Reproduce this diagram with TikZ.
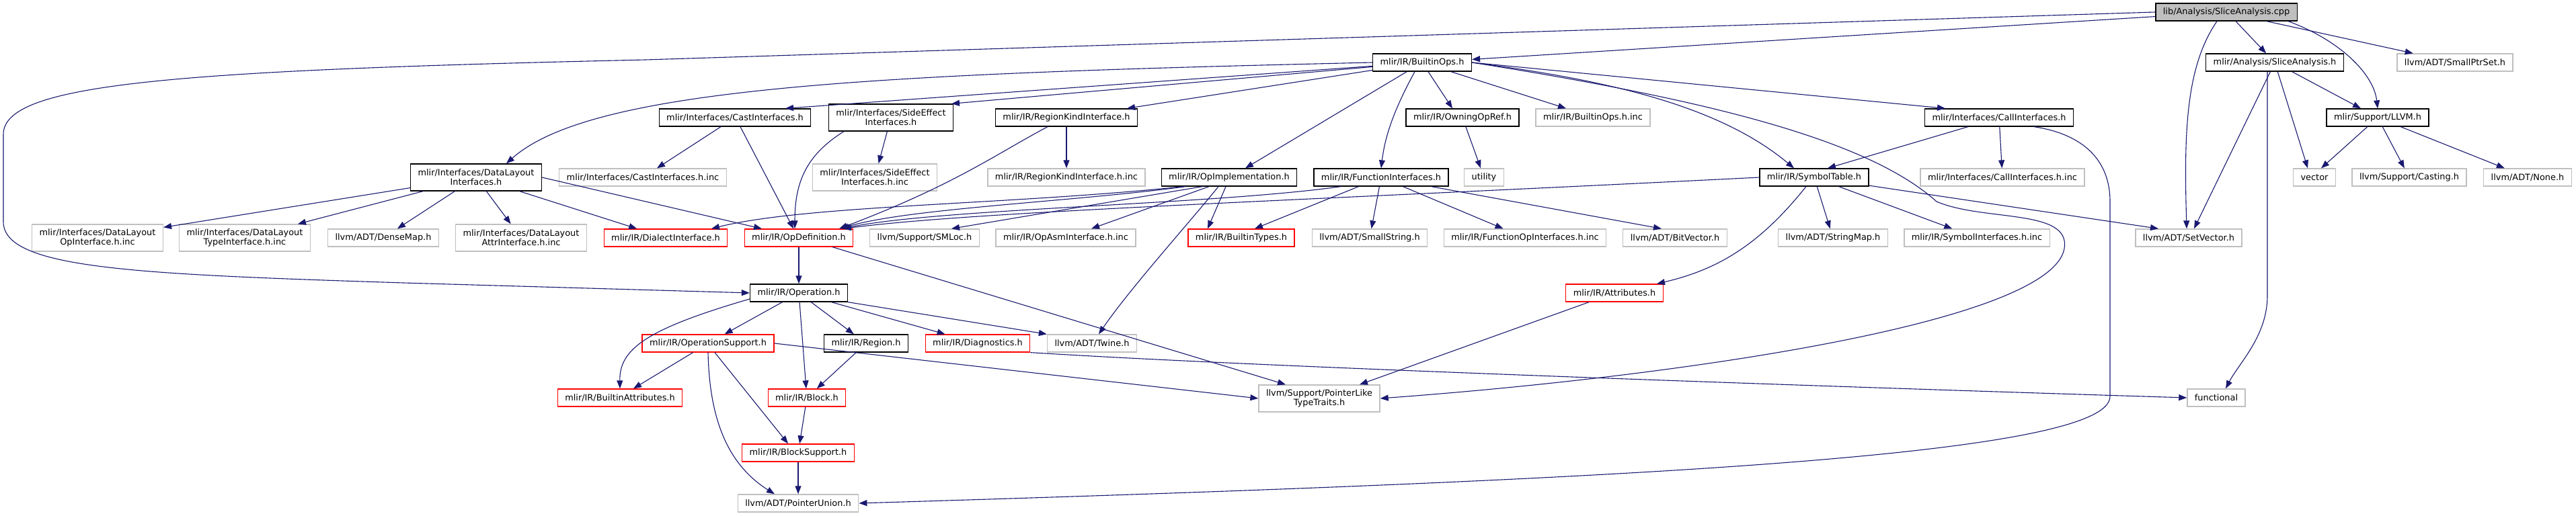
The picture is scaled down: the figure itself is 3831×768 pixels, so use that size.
\documentclass[tikz,border=0pt]{standalone}
\usepackage{fontspec}
\setmainfont{DejaVu Sans}
\usepackage{xcolor}
\usepackage{tikz}
\usetikzlibrary{arrows.meta, positioning}

\definecolor{edgeblue}{HTML}{191970}
\definecolor{leafgray}{HTML}{BFBFBF}
\definecolor{rootgray}{HTML}{BFBFBF}

\tikzset{
  filebox/.style={rectangle, draw, line width=1.3pt, inner xsep=11pt, inner ysep=0pt,
    minimum height=26pt, align=center, font=\fontsize{12.9pt}{14pt}\selectfont},
  rootfile/.style={filebox, draw=black, fill=rootgray},
  openfile/.style={filebox, draw=black},
  leaffile/.style={filebox, draw=leafgray},
  trimfile/.style={filebox, draw=red},
  twoline/.style={minimum height=40pt},
  incl/.style={draw=edgeblue, line width=1.1pt, -{Triangle[length=12pt,width=9pt]}}
}

\begin{document}
\begin{tikzpicture}[x=1pt, y=-1pt]
  \useasboundingbox (0,0) rectangle (3831,768);

  % files
  \node[rootfile] (cpp) at (3311,18) {lib/Analysis/SliceAnalysis.cpp};

  \node[openfile] (builtinops) at (2115,93) {mlir/IR/BuiltinOps.h};
  \node[openfile] (slicea) at (3383,93) {mlir/Analysis/SliceAnalysis.h};
  \node[leaffile] (smallptrset) at (3651,93) {llvm/ADT/SmallPtrSet.h};

  \node[openfile] (castif) at (1093,175) {mlir/Interfaces/CastInterfaces.h};
  \node[openfile, twoline] (sideeffect) at (1325,175) {mlir/Interfaces/SideEffect\\Interfaces.h};
  \node[openfile] (regionkind) at (1586,175) {mlir/IR/RegionKindInterface.h};
  \node[openfile] (owning) at (2175,175) {mlir/IR/OwningOpRef.h};
  \node[leaffile] (builtinopsinc) at (2369,175) {mlir/IR/BuiltinOps.h.inc};
  \node[openfile] (callif) at (2973,175) {mlir/Interfaces/CallInterfaces.h};
  \node[openfile] (llvm) at (3536,175) {mlir/Support/LLVM.h};

  \node[openfile, twoline] (datalayout) at (708,264) {mlir/Interfaces/DataLayout\\Interfaces.h};
  \node[leaffile] (castinc) at (956,264) {mlir/Interfaces/CastInterfaces.h.inc};
  \node[leaffile, twoline] (sideinc) at (1301,264) {mlir/Interfaces/SideEffect\\Interfaces.h.inc};
  \node[leaffile] (regioninc) at (1586,264) {mlir/IR/RegionKindInterface.h.inc};
  \node[openfile] (opimpl) at (1828,264) {mlir/IR/OpImplementation.h};
  \node[openfile] (funcif) at (2054,264) {mlir/IR/FunctionInterfaces.h};
  \node[leaffile] (utility) at (2207,264) {utility};
  \node[openfile] (symtab) at (2698,264) {mlir/IR/SymbolTable.h};
  \node[leaffile] (callinc) at (2978,264) {mlir/Interfaces/CallInterfaces.h.inc};
  \node[leaffile] (vector) at (3442,264) {vector};
  \node[leaffile] (casting) at (3583,264) {llvm/Support/Casting.h};
  \node[leaffile] (none) at (3759,264) {llvm/ADT/None.h};

  \node[leaffile, twoline] (dlop) at (145,354) {mlir/Interfaces/DataLayout\\OpInterface.h.inc};
  \node[leaffile, twoline] (dltype) at (364,354) {mlir/Interfaces/DataLayout\\TypeInterface.h.inc};
  \node[leaffile] (densemap) at (570,354) {llvm/ADT/DenseMap.h};
  \node[leaffile, twoline] (dlattr) at (775,354) {mlir/Interfaces/DataLayout\\AttrInterface.h.inc};
  \node[trimfile] (dialectif) at (990,354) {mlir/IR/DialectInterface.h};
  \node[trimfile] (opdef) at (1188,354) {mlir/IR/OpDefinition.h};
  \node[leaffile] (smloc) at (1375,354) {llvm/Support/SMLoc.h};
  \node[leaffile] (opasm) at (1585,354) {mlir/IR/OpAsmInterface.h.inc};
  \node[trimfile] (builtintypes) at (1846,354) {mlir/IR/BuiltinTypes.h};
  \node[leaffile] (smallstring) at (2037,354) {llvm/ADT/SmallString.h};
  \node[leaffile] (funcopinc) at (2268,354) {mlir/IR/FunctionOpInterfaces.h.inc};
  \node[leaffile] (bitvector) at (2491,354) {llvm/ADT/BitVector.h};
  \node[leaffile] (stringmap) at (2726,354) {llvm/ADT/StringMap.h};
  \node[leaffile] (symifinc) at (2940,354) {mlir/IR/SymbolInterfaces.h.inc};
  \node[leaffile] (setvector) at (3255,354) {llvm/ADT/SetVector.h};

  \node[openfile] (operation) at (1188,436) {mlir/IR/Operation.h};
  \node[trimfile] (attributes) at (2401,436) {mlir/IR/Attributes.h};

  \node[trimfile] (opsupport) at (1053,511) {mlir/IR/OperationSupport.h};
  \node[openfile] (region) at (1288,511) {mlir/IR/Region.h};
  \node[trimfile] (diagnostics) at (1454,511) {mlir/IR/Diagnostics.h};
  \node[leaffile] (twine) at (1624,511) {llvm/ADT/Twine.h};

  \node[trimfile] (builtinattr) at (922,592) {mlir/IR/BuiltinAttributes.h};
  \node[trimfile] (block) at (1200,592) {mlir/IR/Block.h};
  \node[leaffile, twoline] (ptrlike) at (1962,593) {llvm/Support/PointerLike\\TypeTraits.h};
  \node[leaffile] (functional) at (3296,592) {functional};

  \node[trimfile] (blocksupport) at (1187,674) {mlir/IR/BlockSupport.h};
  \node[leaffile] (pointerunion) at (1187,749) {llvm/ADT/PointerUnion.h};

  % includes of the source file
  \draw[incl] (cpp) -- (builtinops);
  \draw[incl] (cpp.west) -- (960,89) .. controls (250,105) and (5,125) .. (5,200)
    -- (5,330) .. controls (5,400) and (200,408) .. (600,421) -- (operation.west);
  \draw[incl] ([xshift=14pt]cpp.south) -- (slicea);
  \draw[incl] ([xshift=60pt]cpp.south) -- (smallptrset);
  \draw[incl] ([xshift=92pt]cpp.south) .. controls (3480,60) and (3530,110) .. (llvm.north);
  \draw[incl] ([xshift=-14pt]cpp.south) .. controls (3250,100) and (3248,200) .. ([xshift=-3pt]setvector.north);

  % mlir/IR/BuiltinOps.h
  \draw[incl] (builtinops.west) .. controls (1300,110) and (880,130) .. ([xshift=45pt]datalayout.north);
  \draw[incl] (builtinops) -- ([xshift=75pt]castif.north);
  \draw[incl] (builtinops) -- ([xshift=90pt]sideeffect.north);
  \draw[incl] (builtinops) -- ([xshift=90pt]regionkind.north);
  \draw[incl] (builtinops) -- ([xshift=24pt]opimpl.north);
  \draw[incl] ([xshift=-11pt]builtinops.south) .. controls (2075,160) and (2060,200) .. (funcif.north);
  \draw[incl] (builtinops) -- ([xshift=-15pt]owning.north);
  \draw[incl] (builtinops) -- ([xshift=-40pt]builtinopsinc.north);
  \draw[incl] (builtinops.east) -- ([xshift=-80pt]callif.north);
  \draw[incl] (builtinops.east) .. controls (2400,120) and (2560,160) .. ([xshift=-30pt]symtab.north);
  \draw[incl] (builtinops.east) .. controls (2550,150) and (2780,210) .. (2880,300)
    .. controls (2950,330) and (3080,310) .. (3070,370)
    .. controls (3050,480) and (2500,560) .. (ptrlike.east);

  % interface headers
  \draw[incl] (datalayout) -- (dlop);
  \draw[incl] (datalayout) -- (dltype);
  \draw[incl] (datalayout) -- (densemap);
  \draw[incl] (datalayout) -- (dlattr);
  \draw[incl] (datalayout) -- (dialectif);
  \draw[incl] (datalayout.east) -- ([xshift=-55pt]opdef.north);
  \draw[incl] (castif) -- (castinc);
  \draw[incl] ([xshift=8pt]castif.south) -- ([xshift=-8pt]opdef.north);
  \draw[incl] (sideeffect) -- (sideinc);
  \draw[incl] ([xshift=-70pt]sideeffect.south) .. controls (1200,230) and (1182,270) .. ([xshift=-6pt]opdef.north);
  \draw[incl] (regionkind) -- (regioninc);
  \draw[incl] ([xshift=-28pt]regionkind.south) .. controls (1480,230) and (1420,275) .. ([xshift=60pt]opdef.north);

  \draw[incl] ([xshift=-65pt]opimpl.south) .. controls (1600,300) and (1350,310) .. ([xshift=62pt]opdef.north);
  \draw[incl] ([xshift=-68pt]opimpl.south) .. controls (1500,305) and (1200,305) .. ([xshift=68pt]dialectif.north);
  \draw[incl] ([xshift=-40pt]opimpl.south) -- ([xshift=40pt]smloc.north);
  \draw[incl] ([xshift=-30pt]opimpl.south) -- (opasm);
  \draw[incl] ([xshift=-5pt]opimpl.south) -- ([xshift=-50pt]builtintypes.north);
  \draw[incl] ([xshift=-16pt]opimpl.south) .. controls (1770,330) and (1680,430) .. ([xshift=10pt]twine.north);

  \draw[incl] ([xshift=-60pt]funcif.south) .. controls (1800,305) and (1400,310) .. ([xshift=64pt]opdef.north);
  \draw[incl] (funcif) -- ([xshift=20pt]builtintypes.north);
  \draw[incl] (funcif) -- (smallstring);
  \draw[incl] (funcif) -- (funcopinc);
  \draw[incl] (funcif) -- ([xshift=-20pt]bitvector.north);
  \draw[incl] (owning) -- (utility);

  \draw[incl] (symtab.west) .. controls (1900,300) and (1450,315) .. ([xshift=66pt]opdef.north);
  \draw[incl] (symtab) -- (stringmap);
  \draw[incl] (symtab) -- (symifinc);
  \draw[incl] (symtab) -- ([xshift=-45pt]setvector.north);
  \draw[incl] ([xshift=-12pt]symtab.south) .. controls (2620,360) and (2560,400) .. ([xshift=63pt]attributes.north);

  \draw[incl] (callif) -- ([xshift=20pt]symtab.north);
  \draw[incl] (callif) -- (callinc);
  \draw[incl] ([xshift=52pt]callif.south) .. controls (3100,200) and (3138,240) .. (3138,300)
    -- (3138,590) .. controls (3138,680) and (2400,715) .. (pointerunion.east);

  \draw[incl] (slicea) -- ([xshift=8pt]setvector.north);
  \draw[incl] (slicea) -- ([xshift=-10pt]vector.north);
  \draw[incl] (slicea) -- ([xshift=-25pt]llvm.north);
  \draw[incl] ([xshift=-11pt]slicea.south) -- (3372,440) .. controls (3372,500) and (3330,540) .. ([xshift=14pt]functional.north);
  \draw[incl] (llvm) -- ([xshift=10pt]vector.north);
  \draw[incl] (llvm) -- (casting);
  \draw[incl] (llvm) -- (none);

  % core IR headers
  \draw[incl] (opdef) -- (operation);
  \draw[incl] ([xshift=50pt]opdef.south) -- ([xshift=-50pt]ptrlike.north);
  \draw[incl] (operation) -- (opsupport);
  \draw[incl] (operation) -- (region);
  \draw[incl] (operation) -- (block);
  \draw[incl] (operation) -- (diagnostics);
  \draw[incl] (operation.south east) -- (twine.north west);
  \draw[incl] ([yshift=-9pt]operation.west) .. controls (960,490) and (921,520) .. (builtinattr.north);
  \draw[incl] (opsupport) -- ([xshift=20pt]builtinattr.north);
  \draw[incl] ([xshift=10pt]opsupport.south) -- ([xshift=-15pt]blocksupport.north);
  \draw[incl] (opsupport.south) .. controls (1055,620) and (1080,690) .. ([xshift=-35pt]pointerunion.north);
  \draw[incl] (opsupport.east) -- (ptrlike.west);
  \draw[incl] (region) -- (block);
  \draw[incl] (diagnostics.south east) .. controls (1900,548) and (2800,578) .. (functional.west);
  \draw[incl] (block) -- (blocksupport);
  \draw[incl] (blocksupport) -- (pointerunion);
  \draw[incl] (attributes) -- ([xshift=60pt]ptrlike.north);
\end{tikzpicture}
\end{document}
